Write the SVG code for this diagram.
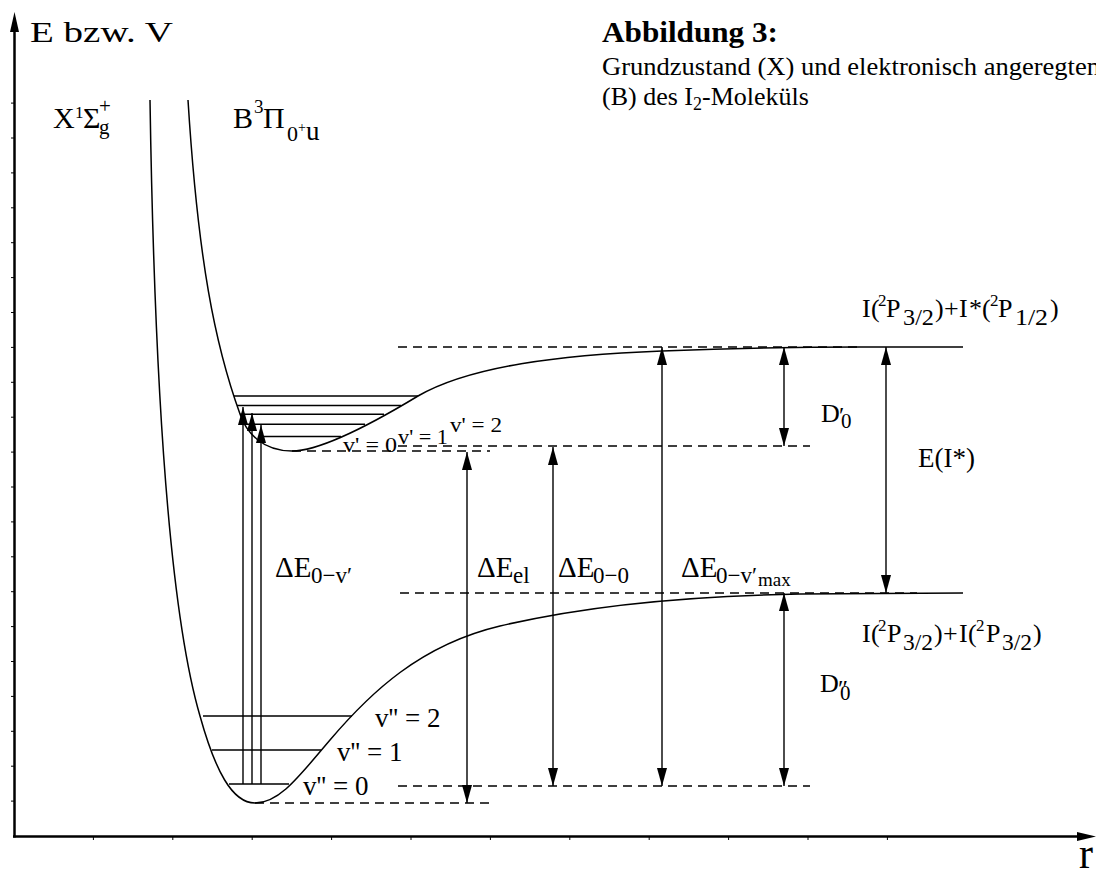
<svg xmlns="http://www.w3.org/2000/svg" width="1096" height="874" viewBox="0 0 1096 874">
<defs>
<marker id="ah" viewBox="0 0 18 10" refX="18" refY="5" markerWidth="18" markerHeight="10" markerUnits="userSpaceOnUse" orient="auto-start-reverse"><path d="M0,0 L18,5 L0,10 z" fill="#000"/></marker>
</defs>
<style>
.c{fill:none;stroke:#000;stroke-width:1.5}
.l{stroke:#000;stroke-width:1.5;fill:none}
.d{stroke:#000;stroke-width:1.5;stroke-dasharray:9 6;fill:none}
.a{stroke:#000;stroke-width:1.4;marker-end:url(#ah)}
.b{stroke:#000;stroke-width:1.4;marker-start:url(#ah);marker-end:url(#ah)}
.t{stroke:#000;stroke-width:1;fill:none}
text{font-family:"Liberation Serif","Times New Roman",serif;fill:#000}
</style>
<rect width="1096" height="874" fill="#fff"/>

<g id="axes">
<line x1="14.5" y1="837.5" x2="14.5" y2="30" stroke="#000" stroke-width="2.5"/>
<polygon points="14.5,12 10,32 19,32" fill="#000"/>
<line x1="13" y1="836.5" x2="1080" y2="836.5" stroke="#000" stroke-width="2.5"/>
<polygon points="1096,836.5 1077,832 1077,841" fill="#000"/>
<path class="t" d="M11,801.1h3M11,766.2h3M11,731.3h3M11,696.4h3M11,661.5h3M11,626.6h3M11,591.7h3M11,556.8h3M11,521.9h3M11,487h3M11,452.1h3M11,417.2h3M11,382.3h3M11,347.4h3M11,312.5h3M11,277.6h3M11,242.7h3M11,207.8h3M11,172.9h3M11,138h3M11,103.1h3"/>
<path class="t" d="M93.4,837v3M172.8,837v3M252.2,837v3M331.6,837v3M411,837v3M490.4,837v3M569.8,837v3M649.2,837v3M728.6,837v3M808,837v3M887.4,837v3"/>
</g>

<g id="curve-X">
<path class="c" d="M150,100 C155,420 172,620 200,716 C215,770 232,803 255,803 C280,803 300,775 330,740 C370,693 420,645 500,626 C580,607 680,596 800,594 L963,593"/>
</g>
<g id="curve-B">
<path class="c" d="M188,100 C198,260 215,345 240,414 C246,432 262,451 292,451 C320,451 370,425 418,396 C470,366 560,355 662,351 C740,348 800,347 860,347 L963,347"/>
</g>

<g id="levels-B">
<path class="l" d="M234,396H418M237,405.5H401M240,414.3H384M246,424.3H365M259,436.5H341"/>
</g>
<g id="levels-X">
<path class="l" d="M203,716H352M212,750H321M229,784H289"/>
</g>

<g id="connectors">
<path class="d" d="M398,347H860M398,446H810M292,451H490M400,593H917M398,786H810M255,803H490"/>
<line class="a" x1="243" y1="784" x2="243" y2="407"/>
<line class="a" x1="252" y1="784" x2="252" y2="413"/>
<line class="a" x1="261" y1="784" x2="261" y2="425"/>
<line class="b" x1="467" y1="452" x2="467" y2="803"/>
<line class="b" x1="553" y1="447" x2="553" y2="786"/>
<line class="b" x1="662" y1="347" x2="662" y2="786"/>
<line class="b" x1="784" y1="347" x2="784" y2="446"/>
<line class="b" x1="886" y1="347" x2="886" y2="593"/>
<line class="b" x1="784" y1="593" x2="784" y2="786"/>
</g>

<g id="label-axis-E">
<text x="30" y="41.5" font-size="29" textLength="143" lengthAdjust="spacingAndGlyphs">E bzw. V</text>
</g>
<g id="label-axis-r">
<text x="1079" y="868" font-size="44" textLength="14" lengthAdjust="spacingAndGlyphs">r</text>
</g>

<g id="label-X">
<text x="53" y="128" font-size="30">X</text>
<text x="75" y="118" font-size="17">1</text>
<text x="83" y="128" font-size="30">Σ</text>
<text x="99" y="113" font-size="21">+</text>
<text x="99" y="134" font-size="21">g</text>
</g>
<g id="label-B">
<text x="233" y="128" font-size="30">B</text>
<text x="254" y="113" font-size="19">3</text>
<text x="263" y="128" font-size="30">Π</text>
<text x="287" y="141" font-size="22">0</text>
<text x="298" y="132" font-size="14">+</text>
<text x="306" y="140" font-size="27">u</text>
</g>

<g id="caption">
<text x="602" y="42" font-size="30" font-weight="bold" textLength="176" lengthAdjust="spacingAndGlyphs">Abbildung 3:</text>
<text x="602" y="75" font-size="26" textLength="498" lengthAdjust="spacingAndGlyphs">Grundzustand (X) und elektronisch angeregten</text>
<text x="602" y="105" font-size="26">(B) des I<tspan font-size="18" dy="5">2</tspan><tspan dy="-5">-Moleküls</tspan></text>
</g>

<g id="label-asym-upper" font-size="26">
<text x="862" y="317">I</text>
<text x="871" y="317">(</text>
<text x="878" y="306" font-size="17">2</text>
<text x="886" y="317">P</text>
<text x="903" y="325" font-size="23" textLength="31" lengthAdjust="spacingAndGlyphs">3/2</text>
<text x="935" y="317">)</text>
<text x="944" y="317">+</text>
<text x="959" y="317">I</text>
<text x="969" y="317">*</text>
<text x="982" y="317">(</text>
<text x="990" y="306" font-size="17">2</text>
<text x="998" y="317">P</text>
<text x="1015" y="325" font-size="23" textLength="33" lengthAdjust="spacingAndGlyphs">1/2</text>
<text x="1050" y="317">)</text>
</g>
<g id="label-asym-lower" font-size="26">
<text x="862" y="642">I</text>
<text x="871" y="642">(</text>
<text x="878" y="631" font-size="17">2</text>
<text x="887" y="642">P</text>
<text x="903" y="650" font-size="23" textLength="30" lengthAdjust="spacingAndGlyphs">3/2</text>
<text x="934" y="642">)</text>
<text x="943" y="642">+</text>
<text x="959" y="642">I</text>
<text x="968" y="642">(</text>
<text x="976" y="631" font-size="17">2</text>
<text x="986" y="642">P</text>
<text x="1002" y="650" font-size="23" textLength="30" lengthAdjust="spacingAndGlyphs">3/2</text>
<text x="1033" y="642">)</text>
</g>

<g id="label-D0p">
<text x="821" y="422" font-size="26">D</text>
<text x="839" y="423" font-size="24">′</text>
<text x="841" y="428" font-size="21">0</text>
</g>
<g id="label-D0pp">
<text x="820" y="692" font-size="26">D</text>
<text x="838" y="696" font-size="24">″</text>
<text x="840" y="700" font-size="21">0</text>
</g>
<g id="label-EI">
<text x="918" y="467" font-size="27">E(I*)</text>
</g>

<g id="label-dE0v">
<text x="275" y="577" font-size="29">ΔE</text><text x="311" y="583" font-size="23">0−v′</text>
</g>
<g id="label-dEel">
<text x="477" y="577" font-size="29">ΔE</text><text x="513" y="583" font-size="23">el</text>
</g>
<g id="label-dE00">
<text x="558" y="577" font-size="29">ΔE</text><text x="593" y="583" font-size="23">0−0</text>
</g>
<g id="label-dE0vmax">
<text x="681" y="577" font-size="29">ΔE</text><text x="716" y="583" font-size="23">0−v′</text><text x="758" y="586" font-size="19">max</text>
</g>

<g id="label-vB">
<text x="343" y="452" font-size="21" textLength="54" lengthAdjust="spacingAndGlyphs">v' = 0</text>
<text x="398" y="444" font-size="21" textLength="50" lengthAdjust="spacingAndGlyphs">v' = 1</text>
<text x="450" y="432" font-size="21" textLength="52" lengthAdjust="spacingAndGlyphs">v' = 2</text>
</g>
<g id="label-vX">
<text x="375" y="727" font-size="27">v'' = 2</text>
<text x="337" y="761" font-size="27">v'' = 1</text>
<text x="303" y="795" font-size="27">v'' = 0</text>
</g>
</svg>
